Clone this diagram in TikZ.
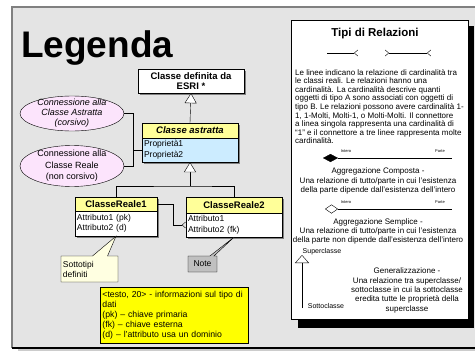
\documentclass[tikz,border=0pt]{standalone}
\usepackage{fontspec}
\setmainfont{Liberation Sans}
\usetikzlibrary{shapes,arrows.meta,shadows}

\definecolor{panelgray}{HTML}{E4E4E4}
\definecolor{headyellow}{HTML}{FFFF99}
\definecolor{absblue}{HTML}{CCECFF}
\definecolor{connpink}{HTML}{FCE4FC}
\definecolor{notecream}{HTML}{FFFFE1}
\definecolor{notegray}{HTML}{C0C0C0}
\definecolor{infoyellow}{HTML}{FFFF00}

\begin{document}
\begin{tikzpicture}[x=1pt,y=-1pt]

\tikzstyle{classhead}=[rectangle,draw,fill=headyellow,inner sep=0pt,font=\fontsize{9.5}{10.5}\selectfont\bfseries,drop shadow={shadow xshift=1.5pt,shadow yshift=-1.5pt,fill=gray,opacity=1}]
\tikzstyle{classbody}=[classhead,fill=white,inner xsep=2pt,inner ysep=0pt,align=left,font=\fontsize{8.5}{10.5}\selectfont]
\tikzstyle{conn}=[ellipse,draw,fill=connpink,inner sep=0pt]
\tikzstyle{conntext}=[align=center,inner sep=0pt,font=\fontsize{9}{10}\selectfont]
\tikzstyle{callnote}=[rectangle callout,draw,inner xsep=2pt,inner ysep=0pt,font=\fontsize{8.5}{10}\selectfont]
\tikzstyle{desc}=[align=center,inner sep=0pt,font=\fontsize{8}{9.4}\selectfont]
\tikzstyle{tiny}=[inner sep=0pt,font=\fontsize{4}{5}\selectfont]
\tikzstyle{crow}=[-{Straight Barb[reversed,length=3.5pt,width=6pt]}]

\useasboundingbox (0,0) rectangle (475,351);

%panel
\fill[panelgray] (12,7) rectangle (475,348);
\fill[gray!40] (18,348.5) rectangle (475,351);
\draw[gray,line width=1.5pt] (12,348) -- (12,7) -- (475,7);
\draw[line width=1.2pt] (12,348) -- (475,348);

\node[anchor=base west,inner sep=0pt,font=\fontsize{37}{40}\selectfont\bfseries] (title) at (21,57) {Legenda};

%classes
\node[classhead,fill=white,minimum width=106pt,minimum height=24pt,align=center] (esri) at (191,81) {Classe definita da\\ESRI *};
\node[classhead,minimum width=96pt,minimum height=15pt,font=\fontsize{9.5}{11}\selectfont\bfseries\itshape] (astrhead) at (190,130.5) {Classe astratta};
\node[classbody,fill=absblue,text width=92pt,minimum height=24pt] (astrbody) at (190,150) {Proprietà1\\Proprietà2};

\node[classhead,minimum width=82pt,minimum height=14pt] (cr1head) at (116,204) {ClasseReale1};
\node[classbody,text width=78pt,minimum height=25pt] (cr1body) at (116,223.5) {Attributo1 (pk)\\Attributo2 (d)};
\node[classhead,minimum width=96pt,minimum height=16pt] (cr2head) at (234,205) {ClasseReale2};
\node[classbody,text width=92pt,minimum height=24pt] (cr2body) at (234,225) {Attributo1\\Attributo2 (fk)};

%generalization
\coordinate (gen) at (190,186);
\draw[-{Triangle[fill=white,length=10pt,width=12pt]}] (astrhead.north) -- (esri.south);
\draw[-{Triangle[fill=white,length=10pt,width=12pt]}] (gen) -- (astrbody.south);
\draw (cr1head.north) |- (gen) -| (cr2head.north);

%relation
\coordinate (assoc) at (173,225);
\draw[crow] (cr1head.east) -| (assoc) -- (cr2body.west);

%connections
\node[conn,minimum width=104pt,minimum height=35pt] (absconn) at (72,113.5) {};
\node[conntext,font=\fontsize{9}{10}\selectfont\itshape] (abstext) at (absconn) {Connessione alla\\Classe Astratta\\(corsivo)};
\node[conn,minimum width=104pt,minimum height=41pt] (realconn) at (72,166) {};
\node[conntext,font=\fontsize{9}{11.5}\selectfont] (realtext) at (realconn) {Connessione alla\\Classe Reale\\(non corsivo)};

\coordinate (connjoin) at (133,150);
\draw (absconn.east) -| (connjoin) -- (astrbody.west);
\draw (realconn.east) -| (connjoin);

%notes
\node[callnote,fill=notecream,text width=53pt,minimum height=26pt,align=left,callout absolute pointer={(cr1body.south)},callout pointer width=15pt] (subtypes) at (89.5,269) {Sottotipi\\definiti};
\node[callnote,fill=notegray,minimum width=29pt,minimum height=16pt,callout absolute pointer={(cr2body.south)},callout pointer width=4pt] (note) at (202.5,264) {Note};

\node[draw,fill=infoyellow,text width=143pt,inner xsep=2.5pt,inner ysep=0pt,minimum height=56pt,align=left,font=\fontsize{8.7}{10}\selectfont] (dtype) at (174,315) {<testo, 20> - informazioni sul tipo di\\dati\\(pk) – chiave primaria\\(fk) – chiave esterna\\(d) – l’attributo usa un dominio};

%relationship types
\fill[black] (298,26) rectangle (474,328);
\node[draw,fill=white,minimum width=177pt,minimum height=299pt,inner sep=0pt] (relbox) at (379.5,169.5) {};

\node[inner sep=0pt,font=\fontsize{11.5}{13}\selectfont\bfseries] (reltitle) at (375,34) {Tipi di Relazioni};

\coordinate (one1) at (327,53);
\coordinate (many1) at (358,53);
\coordinate (many2) at (385,53);
\coordinate (many3) at (431,53);
\draw[crow] (one1) -- (many1);
\draw[{Straight Barb[reversed,length=3.5pt,width=6pt]}-{Straight Barb[reversed,length=3.5pt,width=6pt]}] (many2) -- (many3);

\node[anchor=west,align=left,inner sep=0pt,font=\fontsize{8}{8.6}\selectfont] (cardtext) at (295,106.5) {Le linee indicano la relazione di cardinalità tra\\le classi reali. Le relazioni hanno una\\cardinalità. La cardinalità descrive quanti\\oggetti di tipo A sono associati con oggetti di\\tipo B. Le relazioni possono avere cardinalità 1-\\1, 1-Molti, Molti-1, o Molti-Molti.  Il connettore\\a linea singola rappresenta una cardinalità di\\“1” e il connettore a tre linee rappresenta molte\\cardinalità.};

% composition
\coordinate (compw) at (323,158);
\coordinate (compp) at (452,158);
\draw[{Diamond[length=15pt,width=8pt]}-] (compw) -- (compp);
\node[tiny] (intero1) at (346,151) {Intero};
\node[tiny] (parte1) at (440,151) {Parte};
\node[desc] (comptext) at (378,181) {Aggregazione Composta -\\Una relazione di tutto/parte in cui l’esistenza\\della parte dipende dall’esistenza dell’intero};

% aggregation
\coordinate (aggw) at (325,209);
\coordinate (aggp) at (452,209);
\draw[{Diamond[open,length=13pt,width=9pt]}-] (aggw) -- (aggp);
\node[tiny] (intero2) at (346,202) {Intero};
\node[tiny] (parte2) at (440,202) {Parte};
\node[desc] (aggtext) at (378,231.5) {Aggregazione Semplice -\\Una relazione di tutto/parte in cui l’esistenza\\della parte non dipende dall’esistenza dell’intero};

% generalization
\coordinate (subpt) at (302,308);
\coordinate (suppt) at (302,255);
\draw[-{Triangle[open,length=8pt,width=14pt]}] (subpt) -- (suppt);
\node[inner sep=0pt,font=\fontsize{7}{8}\selectfont] (superl) at (322,252) {Superclasse};
\node[inner sep=0pt,font=\fontsize{7}{8}\selectfont] (subl) at (326,306) {Sottoclasse};
\node[desc,font=\fontsize{8}{9.3}\selectfont] (gentext) at (407,290.5) {Generalizzazione -\\Una relazione tra superclasse/\\sottoclasse in cui la sottoclasse\\eredita tutte le proprietà della\\superclasse};

\end{tikzpicture}
\end{document}
